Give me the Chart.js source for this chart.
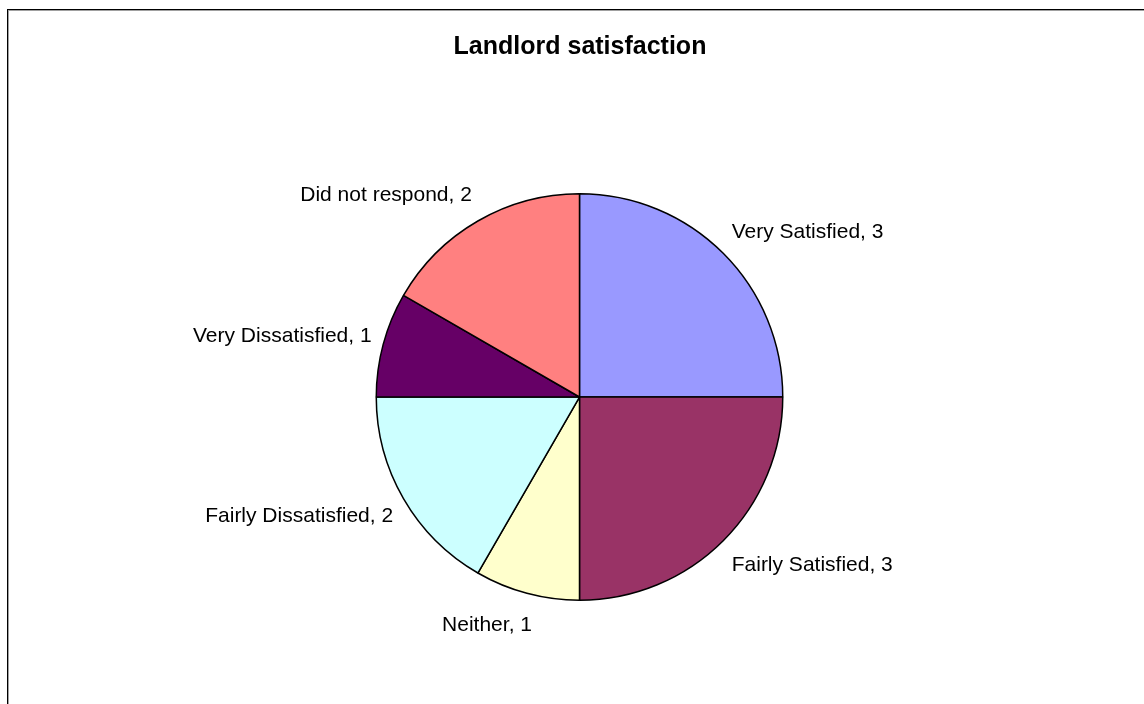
<!DOCTYPE html>
<html>
<head>
<meta charset="utf-8">
<title>Landlord satisfaction</title>
<script src="https://cdn.jsdelivr.net/npm/chart.js@4.4.0/dist/chart.umd.min.js"></script>
<style>
  html, body { margin: 0; padding: 0; background: #fff; }
  #wrap { position: relative; width: 1144px; height: 704px; }
</style>
</head>
<body>
<div id="wrap"><canvas id="myChart" width="1144" height="704"></canvas></div>
<script>
// Slices, clockwise from 12 o'clock
const categories = ["Very Satisfied", "Fairly Satisfied", "Neither", "Fairly Dissatisfied", "Very Dissatisfied", "Did not respond"];
const counts = [3, 3, 1, 2, 1, 2];
const sliceColors = ["#9999FF", "#993366", "#FFFFCC", "#CCFFFF", "#660066", "#FF8080"];
const chartTitle = "Landlord satisfaction";

// frame + title + outside labels drawn on top of the pie
const decorations = {
  id: "decorations",
  afterDraw(chart) {
    const ctx = chart.ctx;
    ctx.save();
    // chart frame (only top and left edges visible)
    ctx.fillStyle = "#000";
    ctx.fillRect(7, 9, 1137, 1);
    ctx.fillRect(7, 9, 1, 695);
    ctx.fillStyle = "#a0a0a0";
    ctx.fillRect(8, 10, 1136, 1);
    ctx.fillRect(8, 10, 1, 694);

    // title
    ctx.fillStyle = "#000";
    ctx.font = "bold 25px 'Liberation Sans', Arial, sans-serif";
    ctx.textAlign = "center";
    ctx.textBaseline = "middle";
    ctx.fillText(chartTitle, 580, 47);

    // data labels, placed outside each slice
    ctx.font = "21px 'Liberation Sans', Arial, sans-serif";
    const meta = chart.getDatasetMeta(0);
    meta.data.forEach((arc, i) => {
      const mid = (arc.startAngle + arc.endAngle) / 2;
      const dx = Math.cos(mid), dy = Math.sin(mid);
      const px = arc.x + dx * arc.outerRadius;
      const py = arc.y + dy * arc.outerRadius;
      const text = categories[i] + ", " + counts[i];
      const w = ctx.measureText(text).width;
      const gap = 12;
      const f = Math.min(1, 0.3 + Math.abs(dx) * 2);
      const cx = px + dx * gap + Math.sign(dx) * (w / 2) * f;
      const cy = py + dy * 30 + (dy > 0 ? 3 : 0);
      ctx.textAlign = "center";
      ctx.fillText(text, cx, cy);
    });
    ctx.restore();
  }
};

new Chart(document.getElementById("myChart").getContext("2d"), {
  type: "pie",
  data: {
    labels: categories,
    datasets: [{
      data: counts,
      backgroundColor: sliceColors,
      borderColor: "#000",
      borderWidth: 1.5
    }]
  },
  options: {
    responsive: false,
    animation: false,
    layout: { padding: { top: 193, bottom: 103, left: 375, right: 360 } },
    plugins: {
      legend: { display: false },
      tooltip: { enabled: false }
    }
  },
  plugins: [decorations]
});
</script>
</body>
</html>
